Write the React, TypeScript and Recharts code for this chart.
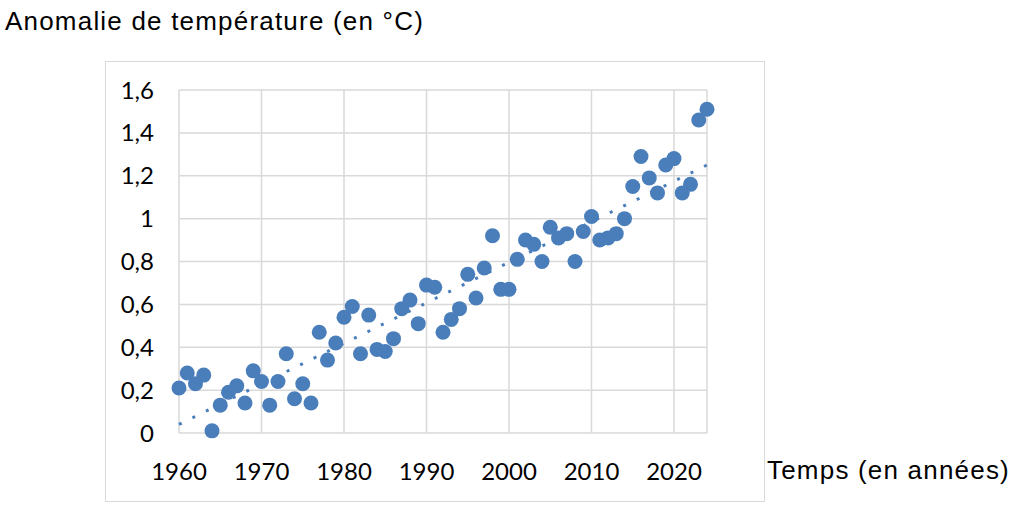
import { ScatterChart, Scatter, XAxis, YAxis, CartesianGrid } from 'recharts';

const years = [
  1960, 1961, 1962, 1963, 1964, 1965, 1966, 1967, 1968, 1969,
  1970, 1971, 1972, 1973, 1974, 1975, 1976, 1977, 1978, 1979,
  1980, 1981, 1982, 1983, 1984, 1985, 1986, 1987, 1988, 1989,
  1990, 1991, 1992, 1993, 1994, 1995, 1996, 1997, 1998, 1999,
  2000, 2001, 2002, 2003, 2004, 2005, 2006, 2007, 2008, 2009,
  2010, 2011, 2012, 2013, 2014, 2015, 2016, 2017, 2018, 2019,
  2020, 2021, 2022, 2023, 2024,
];

const anomalies = [
  0.21, 0.28, 0.23, 0.27, 0.01, 0.13, 0.19, 0.22, 0.14, 0.29,
  0.24, 0.13, 0.24, 0.37, 0.16, 0.23, 0.14, 0.47, 0.34, 0.42,
  0.54, 0.59, 0.37, 0.55, 0.39, 0.38, 0.44, 0.58, 0.62, 0.51,
  0.69, 0.68, 0.47, 0.53, 0.58, 0.74, 0.63, 0.77, 0.92, 0.67,
  0.67, 0.81, 0.9, 0.88, 0.8, 0.96, 0.91, 0.93, 0.8, 0.94,
  1.01, 0.9, 0.91, 0.93, 1.0, 1.15, 1.29, 1.19, 1.12, 1.25,
  1.28, 1.12, 1.16, 1.46, 1.51,
];

// trend line end points
const trendYears = [1960, 2024];
const trendValues = [0.04, 1.25];

const xTicks = [1960, 1970, 1980, 1990, 2000, 2010, 2020];
const yTicks = [0, 0.2, 0.4, 0.6, 0.8, 1, 1.2, 1.4, 1.6];

const points = years.map((year, i) => ({ year, value: anomalies[i] }));
const trend = trendYears.map((year, i) => ({ year, value: trendValues[i] }));

const BLUE = '#4a7ebb';
const GRID = '#d9d9d9';
const tickStyle = { fontFamily: 'Lato', fontSize: 24, fill: '#000' };
const labelFont = { fontFamily: '"Liberation Sans", Arial, sans-serif', fontSize: 26, letterSpacing: 1.2, color: '#000' };

const Dot = (props: any) => <circle cx={props.cx} cy={props.cy} r={7.5} fill={BLUE} />;

const App = () => {
  return (
    <div style={{ position: 'absolute', left: 0, top: 0, width: 1024, height: 508, background: '#fff' }}>
      <div style={{ position: 'absolute', left: 105, top: 61, width: 658, height: 439, border: `1px solid ${GRID}` }} />
      <div style={{ ...labelFont, position: 'absolute', left: 5, top: 7, whiteSpace: 'nowrap', lineHeight: '29px' }}>
        Anomalie de température (en °C)
      </div>
      <div style={{ ...labelFont, position: 'absolute', left: 767, top: 456, whiteSpace: 'nowrap', lineHeight: '29px' }}>
        Temps (en années)
      </div>
      <div style={{ position: 'absolute', left: 0, top: 0 }}>
        <ScatterChart width={1024} height={508} margin={{ top: 90, right: 317, bottom: 15, left: 99 }}>
          <CartesianGrid stroke={GRID} strokeWidth={1.5} />
          <XAxis
            type="number"
            dataKey="year"
            domain={[1960, 2024]}
            ticks={xTicks}
            axisLine={false}
            tickLine={false}
            tickSize={0}
            tickMargin={30}
            height={60}
            tick={tickStyle}
            interval={0}
          />
          <YAxis
            type="number"
            dataKey="value"
            domain={[0, 1.6]}
            ticks={yTicks}
            axisLine={false}
            tickLine={false}
            tickSize={0}
            tickMargin={25}
            width={80}
            tick={tickStyle}
            interval={0}
            tickFormatter={(v: number) => String(v).replace('.', ',')}
          />
          <Scatter
            data={trend}
            line={{ stroke: BLUE, strokeWidth: 3, strokeDasharray: '3 12' }}
            shape={() => <g />}
            isAnimationActive={false}
          />
          <Scatter data={points} fill={BLUE} shape={Dot} isAnimationActive={false} />
        </ScatterChart>
      </div>
    </div>
  );
};

export default App;
